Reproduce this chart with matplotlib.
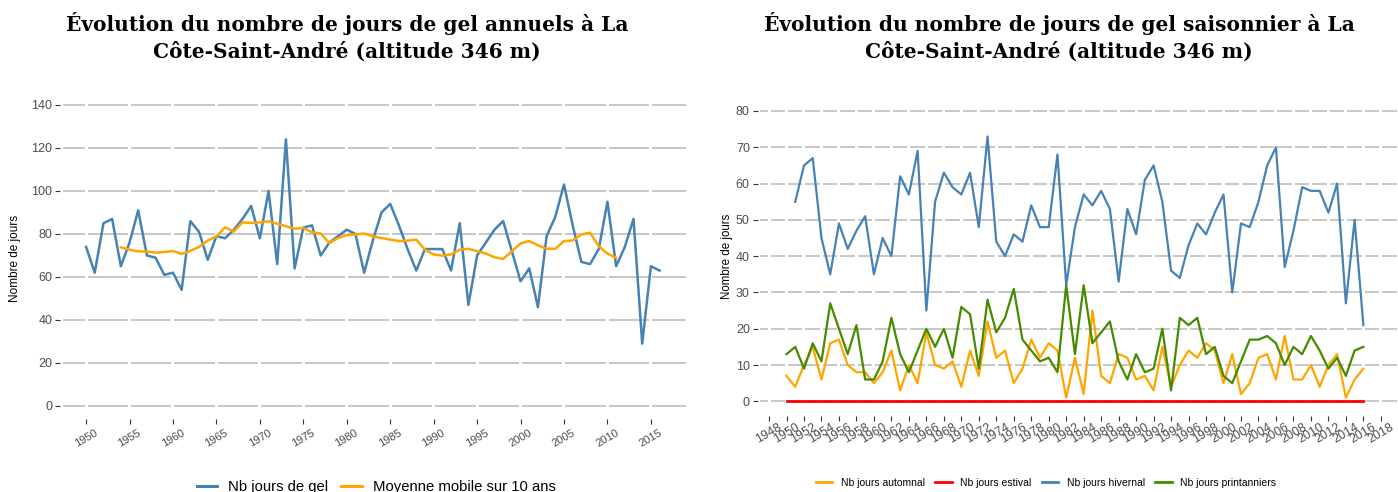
import numpy as np
import matplotlib.pyplot as plt
from matplotlib.lines import Line2D

plt.rcParams['font.family'] = ['Liberation Sans', 'DejaVu Sans']

# ---------- données : nombre de jours de gel annuels ----------
annees = np.arange(1950, 2017)
jours_gel = [74, 62, 85, 87, 65, 76, 91, 70, 69, 61,
             62, 54, 86, 81, 68, 79, 78, 82, 87, 93,
             78, 100, 66, 124, 64, 83, 84, 70, 76, 79,
             82, 80, 62, 77, 90, 94, 84, 73, 63, 73,
             73, 73, 63, 85, 47, 70, 76, 82, 86, 72,
             58, 64, 46, 79, 88, 103, 84, 67, 66, 73,
             95, 65, 74, 87, 29, 65, 63]

annees_moyenne = np.arange(1954, 2012)
moyenne_mobile = [73.8, 72.7, 71.9, 71.9, 71.3, 71.6,
                  72.1, 70.7, 72.2, 74.0, 76.9, 78.9, 83.1, 81.2, 85.4, 85.1,
                  85.4, 85.9, 84.8, 83.6, 82.5, 82.8, 80.8, 80.2, 75.8, 78.1,
                  79.5, 79.8, 80.2, 78.9, 78.1, 77.4, 76.7, 76.9, 77.4, 72.7,
                  70.5, 69.9, 70.5, 72.7, 73.1, 72.0, 70.9, 69.2, 68.4, 72.0,
                  75.6, 76.7, 74.7, 73.1, 73.1, 76.7, 77.0, 79.8, 80.6, 74.3,
                  70.9, 68.9]

# ---------- données : nombre de jours de gel par saison ----------
annees_saison = np.arange(1950, 2017)
annees_hiver = np.arange(1951, 2017)

jours_automnal = [7, 4, 10, 15, 6, 16, 17, 10, 8, 8,
                  5, 8, 14, 3, 10, 5, 19, 10, 9, 11,
                  4, 14, 7, 22, 12, 14, 5, 9, 17, 12,
                  16, 14, 1, 12, 2, 25, 7, 5, 13, 12,
                  6, 7, 3, 15, 4, 10, 14, 12, 16, 14,
                  5, 13, 2, 5, 12, 13, 6, 18, 6, 6,
                  10, 4, 10, 13, 1, 6, 9]
jours_estival = [0, 0, 0, 0, 0, 0, 0, 0, 0, 0,
                 0, 0, 0, 0, 0, 0, 0, 0, 0, 0,
                 0, 0, 0, 0, 0, 0, 0, 0, 0, 0,
                 0, 0, 0, 0, 0, 0, 0, 0, 0, 0,
                 0, 0, 0, 0, 0, 0, 0, 0, 0, 0,
                 0, 0, 0, 0, 0, 0, 0, 0, 0, 0,
                 0, 0, 0, 0, 0, 0, 0]
jours_hivernal = [55, 65, 67, 45, 35, 49, 42, 47, 51,
                  35, 45, 40, 62, 57, 69, 25, 55, 63, 59,
                  57, 63, 48, 73, 44, 40, 46, 44, 54, 48,
                  48, 68, 32, 48, 57, 54, 58, 53, 33, 53,
                  46, 61, 65, 55, 36, 34, 43, 49, 46, 52,
                  57, 30, 49, 48, 55, 65, 70, 37, 47, 59,
                  58, 58, 52, 60, 27, 50, 21]
jours_printanniers = [13, 15, 9, 16, 11, 27, 20, 13, 21, 6,
                      6, 11, 23, 13, 8, 14, 20, 15, 20, 12,
                      26, 24, 9, 28, 19, 23, 31, 17, 14, 11,
                      12, 8, 32, 13, 32, 16, 19, 22, 11, 6,
                      13, 8, 9, 20, 3, 23, 21, 23, 13, 15,
                      7, 5, 11, 17, 17, 18, 16, 10, 15, 13,
                      18, 14, 9, 12, 7, 14, 15]

BLEU = "#4682B4"
ORANGE = "#FFA500"
ROUGE = "#FF0000"
VERT = "#458B00"
GRIS_GRILLE = "#BEBEBE"

W, H = 1398, 492
fig = plt.figure(figsize=(W / 100, H / 100), dpi=100)


def zone(gauche, haut, droite, bas):
    # position d'un axe donnée en pixels de la figure
    return [gauche / W, 1 - bas / H, (droite - gauche) / W, (bas - haut) / H]


def grille(ax, niveaux, graduations, px_par_an):
    # lignes horizontales coupées au droit de chaque graduation en x
    x0, x1 = ax.get_xlim()
    g = 1.5 / px_par_an
    debuts = [x0 + 3 / px_par_an] + [t + g for t in graduations]
    fins = [t - g for t in graduations] + [x1]
    for y in niveaux:
        for a, b in zip(debuts, fins):
            ax.plot([a, b], [y, y], color=GRIS_GRILLE, lw=1.2,
                    solid_capstyle="butt", zorder=1)


def habillage(ax, taille_x, pad_x):
    for s in ax.spines.values():
        s.set_visible(False)
    ax.tick_params(axis="both", direction="out", length=3.5, width=0.8,
                   color="#333333", labelcolor="#4D4D4D")
    ax.tick_params(axis="y", labelsize=9, pad=2)
    ax.tick_params(axis="x", labelsize=taille_x, pad=pad_x)
    for lab in ax.get_xticklabels():
        lab.set_rotation(30)
        lab.set_ha("center")


def titre(x, texte):
    fig.text(x / W, 1 - 12 / H, texte, ha="center", va="top",
             fontsize=14.5, fontweight="bold", family="DejaVu Serif",
             linespacing=1.4)


# ================= graphique des jours de gel annuels =================
ax1 = fig.add_axes(zone(60, 95, 686, 419))
ax1.set_xlim(1947.0, 2019.04)
ax1.set_ylim(-6.05, 144.65)
ticks_g = list(range(1950, 2016, 5))
ticks_y1 = list(range(0, 141, 20))
ax1.set_xticks(ticks_g)
ax1.set_yticks(ticks_y1)
grille(ax1, ticks_y1, ticks_g, 8.69)

ax1.plot(annees, jours_gel, color=BLEU, lw=1.8, zorder=3)
ax1.plot(annees_moyenne, moyenne_mobile, color=ORANGE, lw=1.8, zorder=4)
habillage(ax1, 8, 3)

titre(347, "Évolution du nombre de jours de gel annuels à La\n"
           "Côte-Saint-André (altitude 346 m)")
fig.text(15 / W, 1 - 258 / H, "Nombre de jours", rotation=90,
         ha="center", va="center", fontsize=8.5)

poignees_g = [Line2D([], [], color=BLEU, lw=2.2),
              Line2D([], [], color=ORANGE, lw=2.2)]
fig.legend(poignees_g, ["Nb jours de gel", "Moyenne mobile sur 10 ans"],
           loc="center", bbox_to_anchor=(376 / W, 1 - 487 / H), ncol=2,
           frameon=False, fontsize=10.7, handlelength=1.4,
           handletextpad=0.7, columnspacing=0.9)

# ================= graphique des jours de gel par saison =================
ax2 = fig.add_axes(zone(757.5, 100, 1397, 416))
ax2.set_xlim(1946.68, 2019.85)
ax2.set_ylim(-4.05, 83.03)
ticks_s = list(range(1948, 2019, 2))
ticks_y2 = list(range(0, 81, 10))
ax2.set_xticks(ticks_s)
ax2.set_yticks(ticks_y2)
grille(ax2, ticks_y2, ticks_s, 8.74)

ax2.plot(annees_saison, jours_automnal, color=ORANGE, lw=1.6, zorder=3)
ax2.plot(annees_saison, jours_estival, color=ROUGE, lw=2.0, zorder=4)
ax2.plot(annees_hiver, jours_hivernal, color=BLEU, lw=1.6, zorder=5)
ax2.plot(annees_saison, jours_printanniers, color=VERT, lw=1.6, zorder=6)
habillage(ax2, 9, 0)

titre(1059, "Évolution du nombre de jours de gel saisonnier à La\n"
            "Côte-Saint-André (altitude 346 m)")
fig.text(727 / W, 1 - 256 / H, "Nombre de jours", rotation=90,
         ha="center", va="center", fontsize=8.3)

poignees_d = [Line2D([], [], color=c, lw=2.0) for c in (ORANGE, ROUGE, BLEU, VERT)]
fig.legend(poignees_d, ["Nb jours automnal", "Nb jours estival",
                        "Nb jours hivernal", "Nb jours printanniers"],
           loc="center", bbox_to_anchor=(1046 / W, 1 - 483 / H), ncol=4,
           frameon=False, fontsize=7.5, handlelength=1.6,
           handletextpad=0.8, columnspacing=1.0)

fig.savefig("out.png", dpi=100)
